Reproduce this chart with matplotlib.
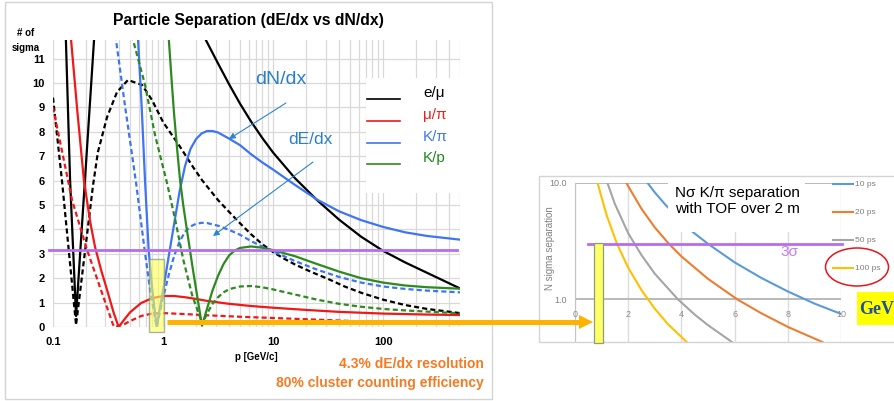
import matplotlib.pyplot as plt
from matplotlib.patches import Rectangle, Ellipse, Polygon
from matplotlib.lines import Line2D
from matplotlib.ticker import LogLocator, NullFormatter, NullLocator

plt.rcParams['font.family'] = ['Liberation Sans', 'DejaVu Sans']
nan = float('nan')

# ---- left chart: number of sigma vs p [GeV/c] (solid = dN/dx, dashed = dE/dx) ----
emu_n_p = [0.128, 0.131, 0.143, 0.162, 0.195, 0.236, 0.242, nan,
           2.15, 2.45, 3.16, 3.98, 5.01, 6.31, 7.94, 10, 15.8, 25.1, 39.8, 63.1, 100, 158, 251, 500]
emu_n_s = [12.3, 11.76, 6.0, 0.45, 6.0, 11.76, 12.3, nan,
           12.3, 11.76, 10.8, 9.95, 9.15, 8.42, 7.76, 7.15, 6.1, 5.2, 4.4, 3.7, 3.12, 2.65, 2.22, 1.58]
emu_e_p = [0.1, 0.121, 0.162, 0.231, 0.256, 0.31, 0.382, 0.48, 0.644, 0.794, 1.0, 1.43, 1.87, 2.26,
           3.162, 3.981, 5.012, 6.31, 7.943, 10, 12.59, 15.85, 22.39, 31.62, 44.67, 64.4, 100, 158.5, 251.2, 500]
emu_e_s = [9.4, 5.94, 0.08, 5.8, 7.17, 8.6, 9.63, 10.12, 9.92, 9.30, 8.40, 7.38, 6.56, 6.02,
           5.2, 4.72, 4.25, 3.8, 3.4, 3.07, 2.8, 2.56, 2.25, 1.97, 1.66, 1.39, 1.12, 0.9, 0.74, 0.57]

mupi_n_p = [0.1426, 0.146, 0.166, 0.191, 0.219, 0.241, 0.275, 0.31, 0.355, 0.395,
            0.447, 0.501, 0.631, 0.794, 1.0, 1.259, 1.585, 1.995, 2.512, 3.981, 6.31, 10, 19.95, 39.81, 100, 251.2, 500]
mupi_n_s = [12.3, 11.76, 8.9, 6.0, 4.25, 3.28, 2.3, 1.52, 0.6, 0.0,
            0.32, 0.6, 0.98, 1.18, 1.27, 1.27, 1.22, 1.15, 1.07, 0.95, 0.86, 0.79, 0.70, 0.62, 0.55, 0.51, 0.49]
mupi_e_p = [0.1, 0.149, 0.204, 0.267, 0.351, 0.365,
            0.447, 0.501, 0.631, 0.794, 1.0, 1.585, 2.512, 5.012, 10, 25.12, 63.1, 158.5, 500]
mupi_e_s = [9.0, 5.2, 3.16, 1.64, 0.1, 0.0,
            0.12, 0.24, 0.45, 0.55, 0.57, 0.53, 0.48, 0.42, 0.37, 0.30, 0.23, 0.17, 0.12]

kpi_n_p = [0.585, 0.593, 0.64, 0.686, 0.74, 0.80, 0.875,
           1.0, 1.122, 1.259, 1.413, 1.585, 1.778, 1.995, 2.239, 2.512, 2.818, 3.162, 3.981, 5.012,
           6.31, 7.943, 10, 15.85, 25.12, 39.81, 63.1, 100, 158.5, 251.2, 500]
kpi_n_s = [12.3, 11.76, 9.0, 6.0, 3.16, 1.5, 0.0,
           1.5, 2.85, 4.2, 5.55, 6.6, 7.3, 7.7, 7.93, 8.03, 8.03, 7.97, 7.72, 7.45,
           7.08, 6.75, 6.45, 5.82, 5.22, 4.74, 4.38, 4.1, 3.88, 3.73, 3.58]
kpi_e_p = [0.365, 0.374, 0.45, 0.569, 0.68, 0.77, 0.875,
           1.0, 1.122, 1.259, 1.413, 1.585, 1.778, 1.995, 2.239, 2.512, 3.162, 3.981, 5.012,
           6.31, 7.943, 10, 15.85, 25.12, 39.81, 63.1, 100, 158.5, 251.2, 500]
kpi_e_s = [12.3, 11.76, 9.1, 5.9, 3.16, 1.4, 0.0,
           1.2, 2.1, 2.9, 3.5, 3.9, 4.12, 4.23, 4.27, 4.26, 4.15, 3.98, 3.78,
           3.52, 3.3, 3.1, 2.7, 2.35, 2.05, 1.82, 1.66, 1.56, 1.49, 1.42]

kp_n_p = [1.11, 1.13, 1.202, 1.259, 1.349, 1.429, 1.531, 1.648, 1.871, 2.26,
          2.512, 2.818, 3.162, 3.548, 3.981, 4.467, 5.012, 6.31, 7.943, 10, 15.85, 25.12, 39.81, 63.1, 100,
          158.5, 251.2, 500]
kp_n_s = [12.3, 11.76, 10.0, 8.75, 7.2, 6.0, 4.95, 3.98, 2.34, 0.05,
          0.75, 1.5, 2.1, 2.58, 2.93, 3.13, 3.24, 3.3, 3.25, 3.15, 2.9, 2.58, 2.27, 2.0, 1.82,
          1.70, 1.63, 1.57]
kp_e_p = [0.525, 0.534, 0.686, 0.845, 1.087, 1.29, 1.52, 1.84, 2.17, 2.26,
          2.512, 2.818, 3.162, 3.548, 3.981, 5.012, 6.31, 7.943, 10, 15.85, 25.12, 39.81, 63.1, 100,
          158.5, 251.2, 500]
kp_e_s = [12.3, 11.76, 9.92, 7.87, 5.9, 4.4, 2.8, 1.3, 0.4, 0.1,
          0.55, 0.95, 1.22, 1.42, 1.55, 1.66, 1.68, 1.63, 1.54, 1.33, 1.12, 0.95, 0.83, 0.74,
          0.68, 0.63, 0.56]

pairs = ['e/μ', 'μ/π', 'K/π', 'K/p']
pair_colors = ['black', '#F01818', '#3F74F2', '#2D8A1F']
label_colors = ['black', '#E8211F', '#3D78F0', '#1E8A1E']
p_ticks = [0.1, 1, 10, 100]
p_tick_labels = ['0.1', '1', '10', '100']
sigma_cut = 3.15

# ---- right chart: TOF K/pi separation, N sigma vs p ----
tof_labels = ['10 ps', '20 ps', '50 ps', '100 ps']
tof_colors = ['#5B9BD5', '#ED7D31', '#A5A5A5', '#FFC000']
tof_p = [
    [2.73, 3.0, 3.4, 4.3, 5.0, 6.0, 7.0, 8.0, 9.0, 10.0],
    [1.93, 2.5, 3.0, 3.53, 4.0, 5.0, 6.1, 7.0, 8.0, 9.3],
    [1.22, 1.5, 2.0, 2.24, 2.5, 3.0, 3.87, 4.5, 5.0, 5.9],
    [0.85, 1.0, 1.2, 1.58, 2.0, 2.5, 3.0, 3.5, 4.2],
]
tof_s = [
    [10, 8.3, 6.5, 4.0, 3.0, 2.08, 1.53, 1.17, 0.92, 0.75],
    [10, 6.0, 4.15, 3.0, 2.34, 1.5, 1.0, 0.76, 0.58, 0.43],
    [10, 6.6, 3.7, 3.0, 2.4, 1.66, 1.0, 0.74, 0.6, 0.43],
    [10, 7.5, 5.2, 3.0, 1.87, 1.2, 0.83, 0.61, 0.43],
]

W, H = 895, 401
fig = plt.figure(figsize=(W / 100, H / 100), dpi=100)
T = fig.dpi_scale_trans


def px(x, y):
    return x / 100, (H - y) / 100


def box(x0, y0, x1, y1, **kw):
    r = Rectangle(px(x0, y1), (x1 - x0) / 100, (y1 - y0) / 100, transform=T, **kw)
    fig.add_artist(r)
    return r


def seg(x0, y0, x1, y1, **kw):
    fig.add_artist(Line2D([x0 / 100, x1 / 100], [(H - y0) / 100, (H - y1) / 100], transform=T, **kw))


def txt(x, y, s, **kw):
    return fig.text(*px(x, y), s, transform=T, **kw)


# panel frames
box(5, 2, 492, 399, fill=False, edgecolor='#d4d4d4', lw=1)
box(539, 176, 900, 342, fill=False, edgecolor='#d4d4d4', lw=1)

# ---------------- left chart ----------------
ax = fig.add_axes([53 / W, 1 - 327 / H, 407 / W, 287 / H])
ax.set_xscale('log')
ax.set_xlim(0.1, 500)
ax.set_ylim(0, 11.76)
ax.set_xticks(p_ticks)
ax.set_xticklabels(p_tick_labels, fontweight='bold', fontsize=8)
ax.xaxis.set_minor_locator(LogLocator(base=10, subs=range(2, 10), numticks=20))
ax.xaxis.set_minor_formatter(NullFormatter())
ax.set_yticks(range(12))
ax.set_yticklabels([str(i) for i in range(12)], fontweight='bold', fontsize=8)
ax.tick_params(which='both', length=0)
ax.tick_params(axis='x', pad=7)
ax.tick_params(axis='y', pad=6)
ax.grid(which='both', color='#d9d9d9', lw=0.9)
ax.set_axisbelow(True)
for s in ax.spines.values():
    s.set_visible(False)

dash = (0, (2.3, 1.4))
curves = [(emu_n_p, emu_n_s, emu_e_p, emu_e_s),
          (mupi_n_p, mupi_n_s, mupi_e_p, mupi_e_s),
          (kpi_n_p, kpi_n_s, kpi_e_p, kpi_e_s),
          (kp_n_p, kp_n_s, kp_e_p, kp_e_s)]
for (np_, ns, ep, es), c in zip(curves, pair_colors):
    ax.plot(np_, ns, color=c, lw=1.6)
    ax.plot(ep, es, color=c, lw=1.6, linestyle=dash)

ax.plot([0.092, 466], [sigma_cut, sigma_cut], color='#B66DF2', lw=2.0, clip_on=False, zorder=4)
ax.add_patch(Rectangle((0.746, -0.2), 1.02 - 0.746, 3.0, facecolor='#FFFF55', alpha=0.6,
                       edgecolor='#6f8585', lw=1, clip_on=False, zorder=5))

# legend box
box(366, 78, 461, 193, facecolor='white', edgecolor='none', zorder=1)
for name, c, lc, y in zip(pairs, pair_colors, label_colors, [99, 121, 143, 164]):
    seg(367, y, 400, y, color=c, lw=1.2, zorder=2)
    txt(423, y - 6, name, color=lc, fontsize=11, ha='left', va='center', zorder=2)

# titles and labels
txt(248, 24.5, 'Particle Separation (dE/dx vs dN/dx)', fontsize=11.3, fontweight='bold',
    ha='center', va='baseline')
txt(26, 33, '# of', fontsize=7, fontweight='bold', ha='center', va='center')
txt(26, 48, 'sigma', fontsize=7, fontweight='bold', ha='center', va='center')
txt(256, 357, 'p [GeV/c]', fontsize=7, fontweight='bold', ha='center', va='center')
txt(484, 364, '4.3% dE/dx resolution', fontsize=10, fontweight='bold', color='#F57A22',
    ha='right', va='center')
txt(484, 383, '80% cluster counting efficiency', fontsize=10, fontweight='bold', color='#F57A22',
    ha='right', va='center')

txt(281, 79, 'dN/dx', fontsize=14, color='#2A7FCC', ha='center', va='center')
txt(310, 140, 'dE/dx', fontsize=12.5, color='#2A7FCC', ha='center', va='center')
arr = dict(arrowstyle='-|>', color='#2A85D0', lw=0.8, mutation_scale=9, shrinkA=0, shrinkB=0)
ax.annotate('', xy=px(229, 139), xytext=px(286, 103), xycoords=T, textcoords=T, arrowprops=arr)
ax.annotate('', xy=px(213, 236), xytext=px(313, 162), xycoords=T, textcoords=T, arrowprops=arr)

# ---------------- right chart ----------------
ax2 = fig.add_axes([575 / W, 1 - 342 / H, 266 / W, 159 / H])
ax2.set_yscale('log')
ax2.set_xlim(0, 10)
ax2.set_ylim(0.43, 10)
ax2.set_xticks(range(0, 11, 2))
ax2.set_xticklabels([])
ax2.set_yticks([1, 10])
ax2.set_yticklabels(['1.0', '10.0'], color='#808080', fontsize=6.5)
ax2.yaxis.set_minor_locator(NullLocator())
ax2.tick_params(length=0, pad=6)
ax2.grid(axis='x', color='#dcdcdc', lw=1)
ax2.grid(axis='y', color='#b4b4b4', lw=1.3)
ax2.set_axisbelow(True)
for k, s in ax2.spines.items():
    s.set_visible(k == 'left')
ax2.spines['left'].set_color('#c4c4c4')
for v in range(0, 11, 2):
    ax2.text(v, 0.74, str(v), ha='center', va='center', fontsize=6.5, color='#8c8c8c')
txt(550, 248, 'N sigma separation', fontsize=7, color='#808080', rotation=90,
    ha='center', va='center')

for xs, ys, c in zip(tof_p, tof_s, tof_colors):
    ax2.plot(xs, ys, color=c, lw=1.5)
ax2.plot([0.49, 10.04], [3, 3], color='#B66DF2', lw=2.0, clip_on=False, zorder=4)

box(668, 180, 805, 232, facecolor='white', edgecolor='none', zorder=1)
txt(675, 201, 'Nσ K/π separation\nwith TOF over 2 m', fontsize=11, ha='left', va='center',
    linespacing=1.15, zorder=2)
txt(780, 252, '3σ', fontsize=11, color='#C77DF3', ha='left', va='center')

for name, c, y in zip(tof_labels, tof_colors, [184, 212, 240, 268]):
    seg(833, y, 853, y, color=c, lw=1.5, zorder=2)
    txt(855, y, name, fontsize=6, color='#7f7f7f', ha='left', va='center', zorder=2)
fig.add_artist(Ellipse(px(857, 267), 0.63, 0.38, transform=T, fill=False,
                       edgecolor='#E8141B', lw=1.1, zorder=3))

box(857, 292, 900, 325, facecolor='#FFFF00', edgecolor='none', zorder=2)
txt(859, 309, 'GeV', fontsize=13, fontweight='bold', color='#1F4E9A',
    family=['Liberation Serif', 'DejaVu Serif'], ha='left', va='center', zorder=3)

box(594, 243, 603, 343, facecolor='#FFFF66', edgecolor='#8c9c7c', lw=0.9, zorder=5)

# orange connector arrow
seg(167, 322, 581, 322, color='#FFB300', lw=3.6, solid_capstyle='butt', zorder=10)
fig.add_artist(Polygon([px(579, 315), px(593, 322), px(579, 329)], closed=True,
                       transform=T, facecolor='#FFB300', edgecolor='none', zorder=10))

fig.savefig('out.png', dpi=100)
